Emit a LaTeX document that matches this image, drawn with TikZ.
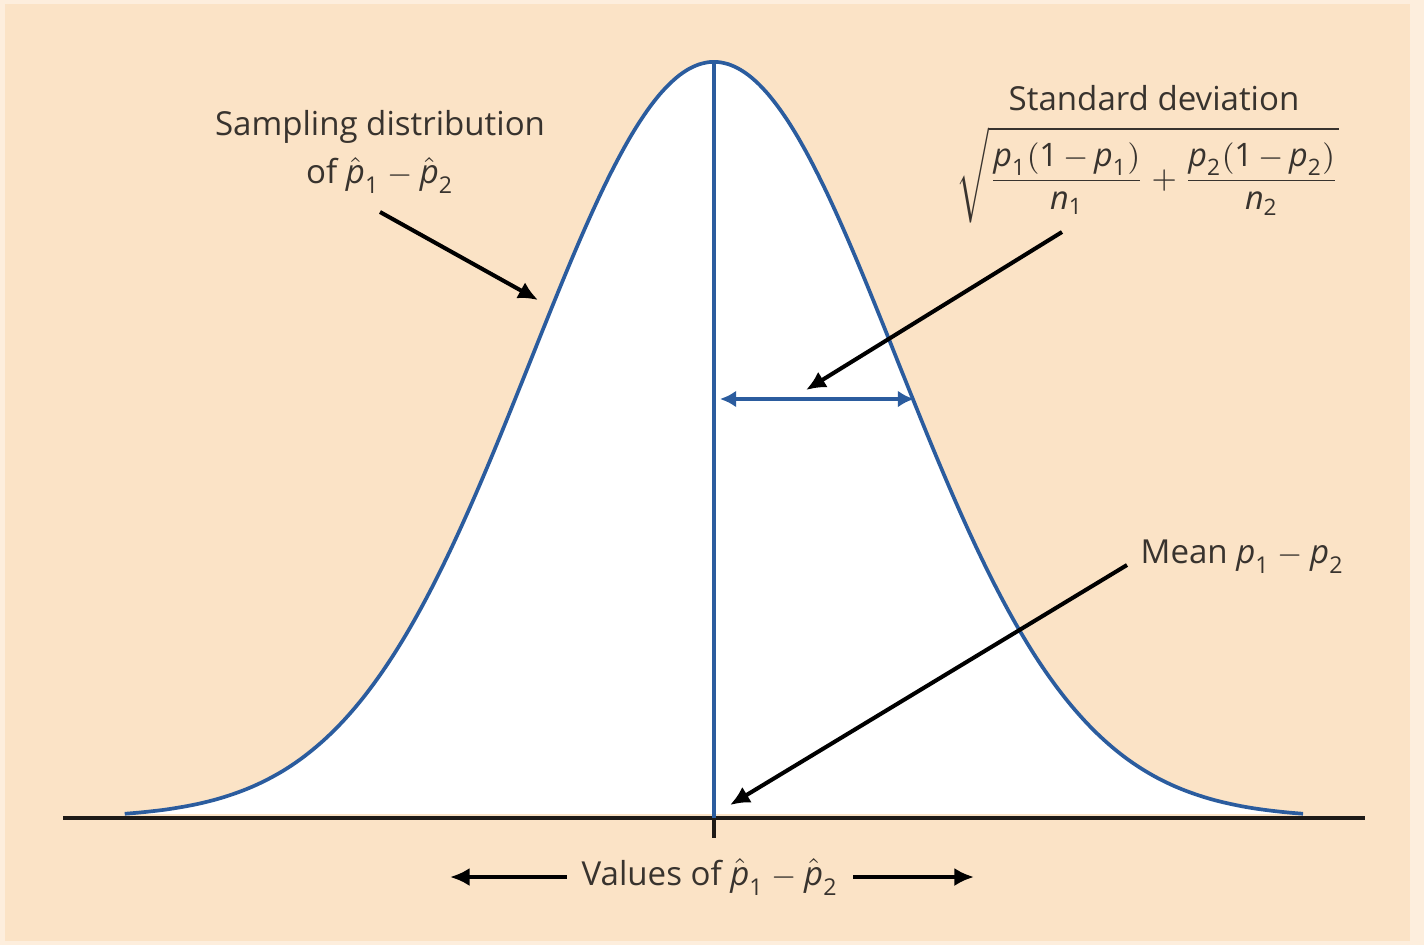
\documentclass[tikz,border=0pt]{standalone}
\usepackage{fontspec}
\usepackage{amsmath}
\setmainfont{Open Sans}
\usetikzlibrary{arrows.meta}
\definecolor{peach}{HTML}{FBE3C6}
\definecolor{cblue}{HTML}{2B5C9E}
\definecolor{ink}{HTML}{38332E}
\definecolor{axisc}{HTML}{1E1A17}
\newcommand{\mvar}[1]{\text{\itshape #1}}
\newcommand{\phat}[1]{\hat{\mvar{p}}_{\text{#1}}}
\newcommand{\pv}[1]{\mvar{p}_{\text{#1}}}
\newcommand{\nv}[1]{\mvar{n}_{\text{#1}}}
\begin{document}
\begin{tikzpicture}[x=0.01cm,y=-0.01cm,
  lbl/.style={text=ink,inner sep=0pt,font=\fontsize{9.4}{13.7}\selectfont},
  pointer/.style={draw=black,line width=1.15pt,-{Latex[length=5.6pt,width=5.2pt]}},
  sdarrow/.style={draw=cblue,line width=1.05pt,{Latex[length=4.6pt,width=4.8pt]}-{Latex[length=4.6pt,width=4.8pt]}},
  axisline/.style={draw=axisc,line width=1.05pt},
  curveline/.style={draw=cblue,line width=1.05pt}]
\useasboundingbox (0,0) rectangle (1424,945);
\fill[peach!60!white] (0,0) rectangle (1424,945);
\fill[peach] (5,4) rectangle (1410,941);
% curve fill
\fill[white] plot[domain=-3.22:3.22,samples=120,smooth] ({714+183*\x},{818-756*exp(-\x*\x/2)}) -- cycle;
% axis
\coordinate (axL) at (63,818);
\coordinate (axR) at (1365,818);
\draw[axisline] (axL) -- (axR);
\coordinate (tickT) at (714,818);
\coordinate (tickB) at (714,838);
\draw[axisline] (tickT) -- (tickB);
% curve
\draw[curveline] plot[domain=-3.22:3.22,samples=120,smooth] ({714+183*\x},{818-756*exp(-\x*\x/2)});
% mean line
\coordinate (peak) at (714,62);
\coordinate (base) at (714,818);
\draw[curveline] (peak) -- (base);
% sd arrow
\coordinate (sdL) at (720,399);
\coordinate (sdR) at (914,399);
\draw[sdarrow] (sdL) -- (sdR);
% labels
\node[lbl,align=center] (samp) at (380,152) {Sampling distribution\\of $\phat1-\phat2$};
\node[lbl] (sdtitle) at (1154,98) {Standard deviation};
\node[lbl,font=\fontsize{9.2}{11}\selectfont] (sdform) at (1148,175) {$\displaystyle\sqrt{\frac{\pv1(\text{1}\,{-}\,\pv1)}{\nv1}+\frac{\pv2(\text{1}\,{-}\,\pv2)}{\nv2}}$};
\node[lbl,anchor=west] (mean) at (1140,557) {Mean $\pv1-\pv2$};
\node[lbl] (values) at (710,877) {Values of $\phat1-\phat2$};
% pointers
\coordinate (sampS) at (380,212);
\coordinate (sampE) at (538,300);
\draw[pointer] (sampS) -- (sampE);
\coordinate (sdS) at (1062,232);
\coordinate (sdE) at (806,390);
\draw[pointer] (sdS) -- (sdE);
\coordinate (meanS) at (1127,565);
\coordinate (meanE) at (730,805);
\draw[pointer] (meanS) -- (meanE);
\coordinate (valL) at (450,877);
\coordinate (valR) at (974,877);
\draw[pointer] (values.west) ++(-14,0) -- (valL);
\draw[pointer] (values.east) ++(14,0) -- (valR);
\end{tikzpicture}
\end{document}
